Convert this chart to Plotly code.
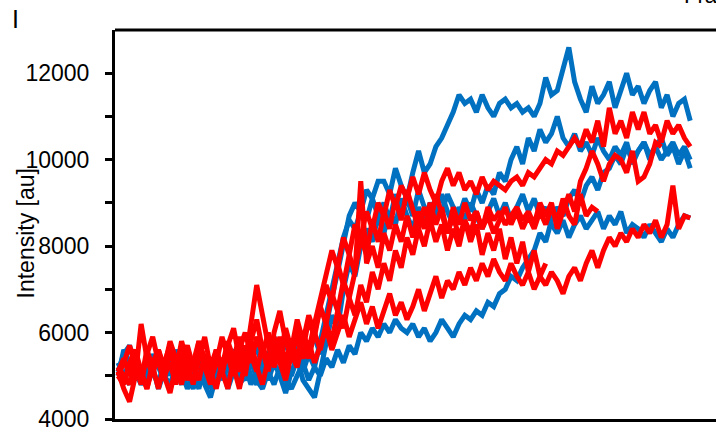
import plotly.graph_objects as go

# Frame index shared by all traces
frames = list(range(100))

# Intensity traces [au], one list per cell
blue_1 = [5100, 5500, 5700, 5200, 4900, 5300, 5100, 4800, 5400, 5000,
          5600, 5200, 4900, 5300, 5500, 5100, 4700, 5200, 5000, 5400,
          5600, 5100, 4900, 5300, 5700, 5200, 5500, 5900, 5400, 5800,
          5300, 5700, 5200, 5600, 5900, 5500, 6200, 6800, 7400, 8100,
          8700, 9000, 8800, 9300, 9100, 9500, 9500, 9200, 9800, 9400,
          9100, 9700, 10200, 9700, 9900, 10300, 10500, 10800, 11100, 11500,
          11300, 11400, 11100, 11500, 11200, 11000, 11300, 11400, 11200, 11300,
          11100, 11200, 11000, 11300, 11900, 11500, 11600, 12100, 12600, 11800,
          11400, 11100, 11700, 11300, 11500, 11800, 11200, 11600, 12000, 11500,
          11700, 11300, 11600, 11800, 11200, 11500, 11000, 11300, 11400, 10900]

blue_2 = [5200, 4900, 5400, 5100, 4800, 5000, 5500, 5200, 4900, 5300,
          5100, 4800, 5200, 5000, 4700, 5300, 5100, 5400, 4900, 5200,
          5000, 5500, 5200, 4800, 5100, 5400, 5000, 5300, 5700, 5200,
          5000, 5400, 5100, 5500, 5200, 5800, 6300, 7000, 7600, 8200,
          8600, 8400, 8800, 8600, 9100, 8700, 9000, 8600, 9200, 8800,
          9100, 8700, 9300, 8900, 8600, 9000, 8800, 9200, 8900, 8700,
          9100, 8800, 9300, 9000, 9400, 9200, 9700, 9500, 10000, 10300,
          9900, 10500, 10200, 10700, 10400, 10600, 11000, 10500, 10300, 10600,
          10200, 10400, 10100, 10500, 10200, 10000, 10300, 10100, 10400, 9900,
          10200, 10400, 10000, 10300, 10500, 10100, 10300, 9900, 10200, 9800]

blue_3 = [5000, 5600, 5300, 4900, 5200, 4800, 5100, 5400, 5000, 4800,
          5200, 5500, 5000, 4700, 5100, 4800, 4500, 5000, 5300, 4700,
          5100, 4900, 5400, 5000, 4800, 5200, 4900, 5300, 5000, 4600,
          5100, 5400, 4900, 4700, 4500, 5100, 5700, 6400, 6100, 7000,
          7600, 7300, 8000, 8400, 8100, 8700, 8300, 8800, 8500, 9100,
          8700, 8400, 8900, 8600, 9000, 8700, 9200, 8800, 8500, 8900,
          8600, 9000, 8700, 8400, 8800, 9100, 8700, 9000, 8600, 8900,
          9200, 8800, 9100, 8700, 8900, 8500, 8300, 8600, 8200, 8500,
          8700, 8400, 8600, 8800, 8400, 8700, 8500, 8800, 8300, 8500,
          8400, 8200, 8500, 8300, 8100, 8400, 8200, 8500, 8700, 8650]

blue_4 = [5300, 5000, 4800, 5400, 5100, 4900, 5200, 4700, 5100, 5400,
          4900, 5100, 4700, 5000, 5300, 4900, 5200, 4800, 5100, 4900,
          5300, 4800, 5000, 5400, 4900, 4700, 5100, 4800, 5200, 4900,
          4700, 5000, 5300, 4900, 5200, 5000, 5400, 5200, 5600, 5300,
          5700, 5500, 6000, 5800, 6100, 5900, 6200, 6000, 6300, 6100,
          6000, 6200, 5900, 6100, 5800, 6000, 6300, 6100, 5900, 6200,
          6400, 6300, 6500, 6400, 6700, 6600, 6900, 7000, 7300, 7200,
          7500, 7700, 7900, 8300, 8100, 8600, 8900, 8700, 9100, 9300,
          9000, 9400, 9600, 9300, 9700, 9800, 10100, 9900, 10300, 10000,
          10200, 10400, 10100, 10300, 10000, 10200, 10400, 10100, 10300, 10000]

red_1 = [5100, 4700, 4400, 5000, 6200, 5400, 5000, 5600, 5200, 5800,
         5400, 4900, 5500, 5100, 5700, 5300, 5000, 5600, 5200, 5800,
         5400, 5100, 5700, 5300, 5900, 5500, 6000, 5400, 5900, 5300,
         5800, 5400, 6000, 5600, 6200, 6800, 7400, 7900, 7500, 8200,
         7800, 8500, 8200, 8800, 8400, 9000, 8700, 9300, 8900, 9400,
         9100, 9600, 9200, 9700, 9300, 9000, 9500, 9800, 9400, 9700,
         9300, 9500, 9200, 9600, 9300, 9500, 9400, 9300, 9500, 9600,
         9400, 9700, 9600, 9800, 10000, 9900, 10200, 10100, 10300, 10500,
         10300, 10700, 10400, 10900, 10300, 11200, 10600, 10900, 10500, 11100,
         10700, 11100, 10600, 10800, 10400, 10900, 10600, 10800, 10500, 10300]

red_2 = [5000, 5300, 5700, 5200, 4800, 5500, 5900, 5300, 4900, 5600,
         5100, 5800, 5300, 4800, 5400, 5900, 5200, 5600, 5000, 5700,
         6100, 5400, 5000, 5800, 6300, 5600, 5100, 6000, 6500, 5800,
         5400, 6100, 5600, 6300, 5900, 6600, 7100, 6700, 7600, 7100,
         7800, 7400, 8200, 7800, 8600, 8100, 8800, 8400, 9100, 8600,
         9300, 8800, 8400, 8900, 8500, 9200, 8700, 8300, 8900, 8500,
         9000, 8600, 8800, 8400, 8900, 8600, 8800, 8500, 8700, 8900,
         8600, 8800, 8500, 9000, 8700, 9000, 8400, 8800, 9200, 8800,
         9500, 9800, 10200, 9900, 9500, 9900, 10100, 10000, 9700, 10200,
         9500, 9600, 9900, 10400, 10300]

red_3 = [5200, 5000, 4800, 5500, 5100, 4700, 5300, 5600, 5000, 4600,
         5200, 5400, 4900, 5300, 5800, 5200, 4800, 5500, 5100, 4700,
         5400, 5900, 5300, 6300, 7100, 6400, 5700, 5200, 5600, 5100,
         5500, 5900, 5400, 5800, 5300, 5700, 6100, 5600, 6000, 6400,
         5900, 6300, 6700, 6200, 6600, 6100, 6500, 6900, 6400, 6700,
         6300, 6600, 7000, 6500, 6900, 7300, 6800, 7200, 7000, 7400,
         7100, 7500, 7200, 7600, 7300, 7700, 7400, 7200, 7600, 7300,
         7100, 7400, 7000, 7300, 7100, 7400, 7200, 6900, 7300, 7500,
         7200, 7600, 7900, 7500, 7900, 8200, 8000, 8300, 8100, 8400,
         8200, 8500, 8300, 8600, 8200, 8500, 9400, 8400, 8700, 8650]

red_4 = [5100, 5400, 5000, 5300, 4900, 5600, 5200, 4700, 5300, 5700,
         5200, 4800, 5500, 5100, 5800, 5400, 4900, 5300, 5900, 5400,
         5000, 5600, 6000, 5500, 5100, 5700, 5300, 5900, 5400, 6100,
         5600, 6300, 5800, 6400, 6000, 6600, 6200, 6900, 6500, 7200,
         6800, 7400, 9500, 7600, 8000, 7500, 8300, 7900, 8500, 8100,
         8700, 8200, 8800, 8400, 9000, 8500, 8900, 8300, 8700, 8200,
         8600, 8300, 8800, 8400, 8700, 8300, 8600, 8900, 8500, 8800,
         8400, 8700, 8400, 8800, 8500, 8900, 8600, 9100, 8700, 8500,
         9200, 8700, 8900, 8800]

red_5 = [5000, 4800, 5300, 5600, 5100, 4700, 5200, 5500, 5000, 5300,
         4800, 5400, 5700, 5200, 4900, 5500, 5100, 4700, 5300, 5600,
         5200, 4700, 5300, 5800, 5200, 4800, 5400, 5800, 5300, 4900,
         5500, 5200, 5800, 5400, 6000, 5600, 6200, 5800, 6500, 6100,
         6800, 6400, 7100, 6700, 7400, 7000, 7600, 7200, 7900, 7500,
         8200, 7800, 8400, 8000, 8600, 8100, 8500, 7900, 8400, 8000,
         8600, 8100, 8500, 7800, 8300, 7900, 8400, 7700, 8200, 7600,
         8100, 7400, 7900, 7300, 7600]

blue_cells = [blue_1, blue_2, blue_3, blue_4]
red_cells = [red_1, red_2, red_3, red_4, red_5]

y_ticks = [4000, 6000, 8000, 10000, 12000]
y_minor = [5000, 7000, 9000, 11000]

BLUE = "#0070C0"
RED = "#FF0000"
FONT = "Liberation Sans, Arial, sans-serif"

fig = go.Figure()
for cell in blue_cells:
    fig.add_trace(go.Scatter(x=frames[:len(cell)], y=cell, mode="lines",
                             line=dict(color=BLUE, width=5),
                             hoverinfo="skip", showlegend=False))
for cell in red_cells:
    fig.add_trace(go.Scatter(x=frames[:len(cell)], y=cell, mode="lines",
                             line=dict(color=RED, width=5),
                             hoverinfo="skip", showlegend=False))

fig.update_layout(
    width=716, height=432,
    margin=dict(l=115, r=0, t=30, b=10),
    paper_bgcolor="white", plot_bgcolor="white",
    showlegend=False,
    font=dict(family=FONT, color="black"),
    xaxis=dict(range=[-0.52, 103.46], showline=True, linecolor="black",
               linewidth=3, showgrid=False, zeroline=False,
               showticklabels=False, ticks=""),
    yaxis=dict(range=[4000, 13000], tickvals=y_ticks,
               ticktext=[str(v) for v in y_ticks], ticks="outside",
               ticklen=7, tickwidth=3, tickcolor="black",
               showline=True, linecolor="black", linewidth=3,
               showgrid=False, zeroline=False,
               tickfont=dict(size=23, family=FONT, color="black"),
               ticklabelstandoff=11, ticklabeloverflow="allow",
               minor=dict(tickvals=y_minor, ticks="outside", ticklen=7,
                          tickwidth=3, tickcolor="black", showgrid=False)),
    shapes=[dict(type="line", xref="paper", yref="paper", x0=0, x1=1,
                 y0=1, y1=1, line=dict(color="black", width=3))],
    annotations=[
        dict(text="Intensity [au]", textangle=-90, xref="paper", yref="paper",
             x=0, y=0.477, xanchor="center", yanchor="middle", xshift=-89,
             showarrow=False, font=dict(size=23, family=FONT, color="black")),
        dict(text="I", xref="paper", yref="paper", x=0, y=1,
             xanchor="left", yanchor="middle", xshift=-105, yshift=11,
             showarrow=False, font=dict(size=25, family=FONT, color="black")),
        dict(text="Fra", xref="paper", yref="paper", x=0, y=1,
             xanchor="left", yanchor="bottom", xshift=567, yshift=20,
             showarrow=False, font=dict(size=22, family=FONT, color="black")),
    ],
)

fig.write_html("out.html")
